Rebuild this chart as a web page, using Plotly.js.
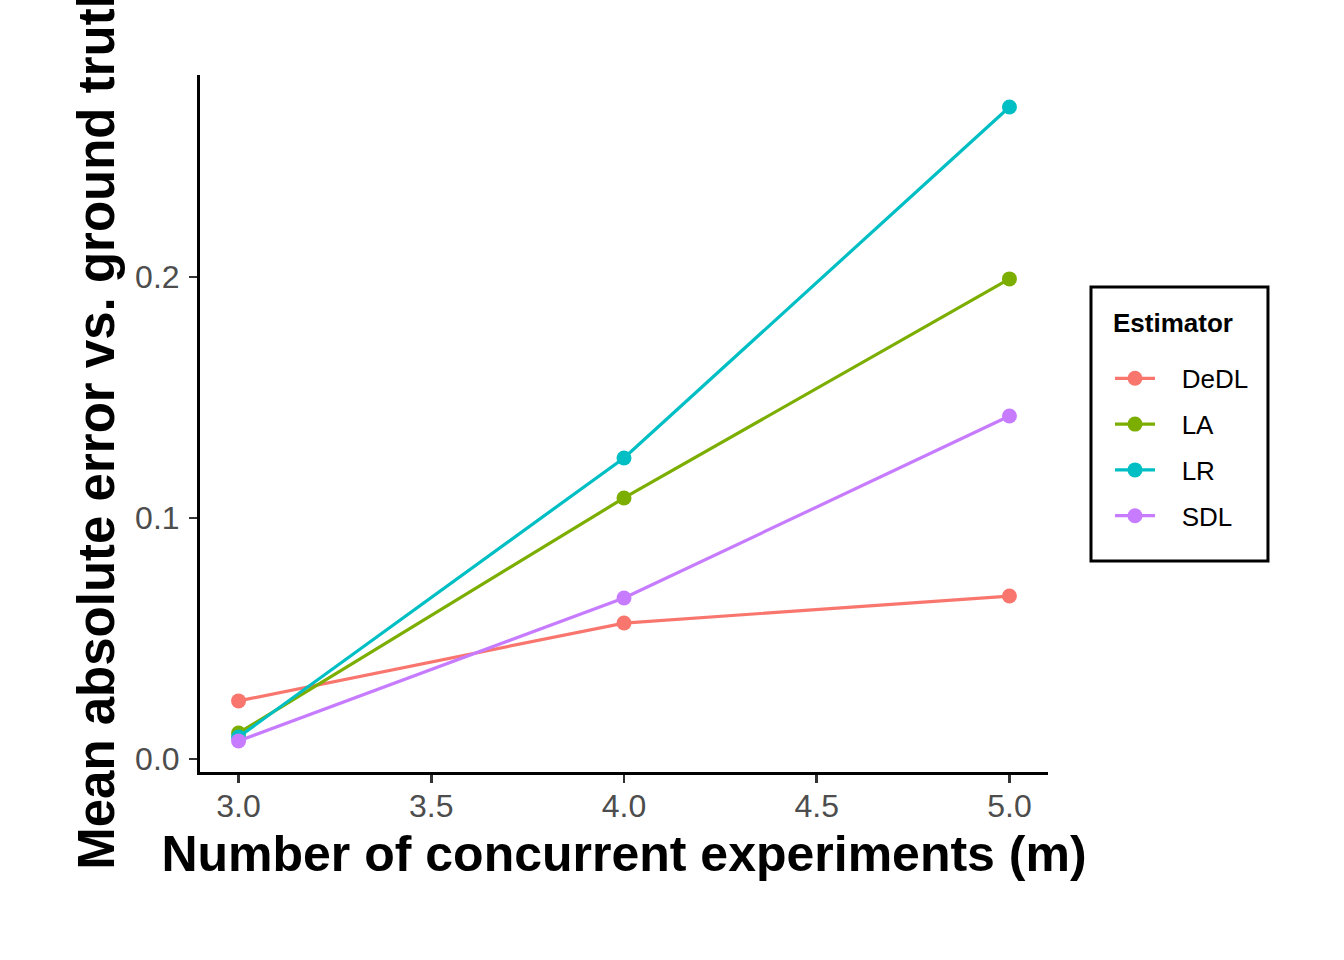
<!DOCTYPE html>
<html>
<head>
<meta charset="utf-8">
<script src="https://cdn.plot.ly/plotly-3.0.1.min.js"></script>
<style>
  html, body { margin: 0; padding: 0; background: #ffffff; }
  #chart { width: 1344px; height: 960px; }
</style>
</head>
<body>
<div id="chart"></div>
<script>
// Number of concurrent experiments (m)
const experiments = [3, 4, 5];

// Mean absolute error for each estimator
const dedl = [0.0241, 0.0564, 0.0676];
const la   = [0.0108, 0.1083, 0.1992];
const lr   = [0.0091, 0.1249, 0.2705];
const sdl  = [0.0075, 0.0668, 0.1423];

const estimatorNames = ["DeDL", "LA", "LR", "SDL"];
const estimatorValues = [dedl, la, lr, sdl];
const estimatorColors = ["#F8766D", "#7CAE00", "#00BFC4", "#C77CFF"];

// Non-breaking spaces open a gap between legend key and label
const keyGap = "\u00A0\u00A0\u00A0";

const traces = estimatorNames.map((name, i) => ({
  type: "scatter",
  mode: "lines+markers",
  name: keyGap + name,
  legendgroup: name,
  x: experiments,
  y: estimatorValues[i],
  line: { color: estimatorColors[i], width: 3.2 },
  marker: { color: estimatorColors[i], size: 15 },
  cliponaxis: false
}));

const layout = {
  width: 1344,
  height: 960,
  paper_bgcolor: "#ffffff",
  plot_bgcolor: "#ffffff",
  font: { family: "Liberation Sans, Arial, sans-serif", color: "#000000" },
  margin: { l: 200, r: 296, t: 75, b: 188 },
  showlegend: true,
  legend: {
    x: 1.0731, xanchor: "left",
    y: 0.5984, yanchor: "top",
    borderwidth: 0,
    bgcolor: "rgba(0,0,0,0)",
    font: { size: 26, color: "#000000" },
    tracegroupgap: 9,
    itemwidth: 40
  },
  // Legend frame and heading
  shapes: [{
    type: "rect", xref: "paper", yref: "paper",
    x0: 1.0507, x1: 1.2594, y0: 0.3027, y1: 0.6958,
    line: { color: "#000000", width: 3 },
    fillcolor: "rgba(0,0,0,0)"
  }],
  annotations: [{
    xref: "paper", yref: "paper",
    x: 1.0743, y: 0.6442, xanchor: "left", yanchor: "middle",
    text: "<b>Estimator</b>", showarrow: false,
    font: { size: 26, color: "#000000" }
  }],
  xaxis: {
    range: [2.9, 5.1],
    tickvals: [3, 3.5, 4, 4.5, 5],
    tickformat: ".1f",
    showgrid: false,
    zeroline: false,
    showline: true,
    linecolor: "#000000",
    linewidth: 3,
    ticks: "outside",
    ticklen: 8,
    tickwidth: 2.5,
    tickcolor: "#333333",
    ticklabelstandoff: -4,
    tickfont: { size: 32, color: "#4D4D4D" },
    title: {
      text: "<b>Number of concurrent experiments (m)</b>",
      font: { size: 50, color: "#000000" },
      standoff: 13
    }
  },
  yaxis: {
    range: [-0.0054, 0.2838],
    tickvals: [0, 0.1, 0.2],
    tickformat: ".1f",
    showgrid: false,
    zeroline: false,
    showline: true,
    linecolor: "#000000",
    linewidth: 3,
    ticks: "outside",
    ticklen: 8,
    tickwidth: 2.5,
    tickcolor: "#333333",
    ticklabelstandoff: 3,
    tickfont: { size: 32, color: "#4D4D4D" },
    title: {
      text: "<b>Mean absolute error vs. ground truth</b>",
      font: { size: 51, color: "#000000" },
      standoff: 5
    }
  }
};

Plotly.newPlot("chart", traces, layout, { displayModeBar: false, staticPlot: true });
</script>
</body>
</html>
